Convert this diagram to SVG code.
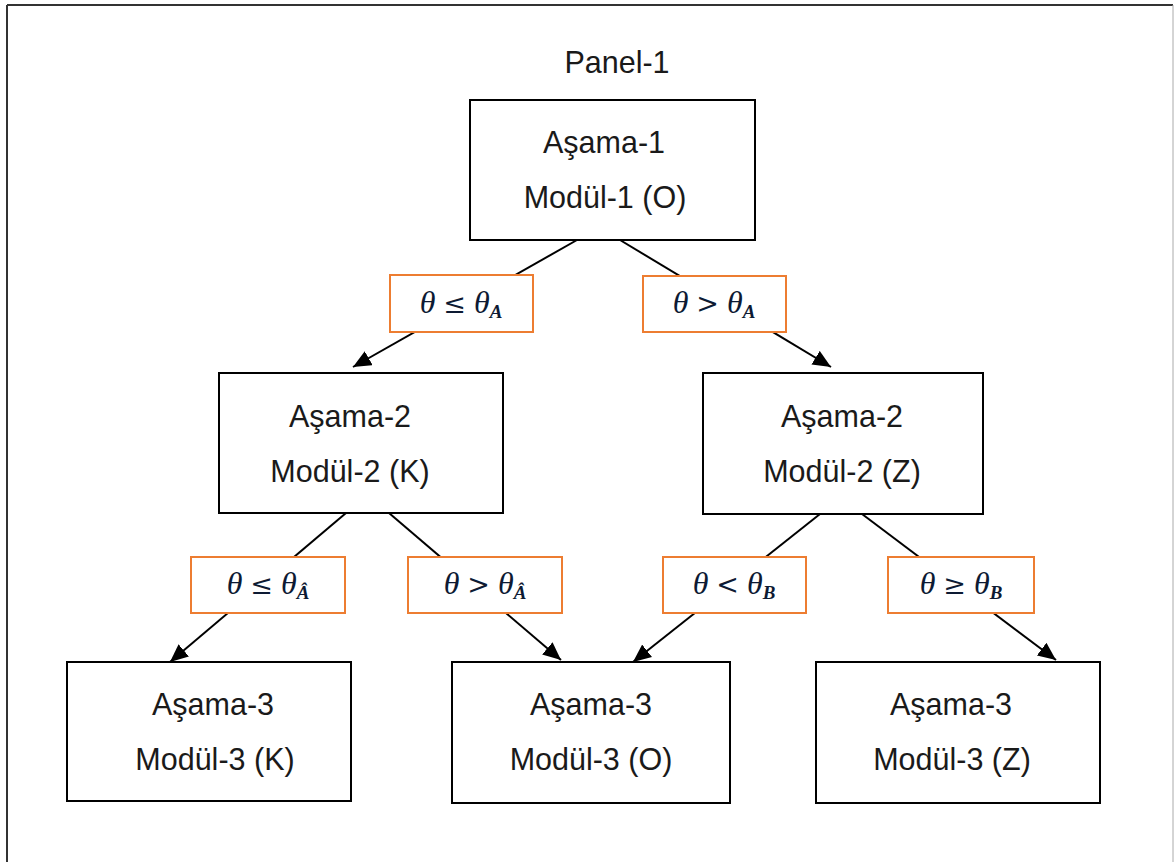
<svg xmlns="http://www.w3.org/2000/svg" width="1174" height="862" viewBox="0 0 1174 862">
<defs>
<style>
.box{fill:#fff;stroke:#000;stroke-width:2}
.lbl{fill:#fff;stroke:#ED7D31;stroke-width:2}
.t{font-family:"Liberation Sans",Arial,sans-serif;font-size:30.5px;fill:#1a1a1a;text-anchor:middle}
.m{font-family:"Liberation Serif","DejaVu Serif",serif;font-style:italic;font-size:32px;fill:#0d1a33;text-anchor:middle}
.o{font-family:"DejaVu Serif",serif;font-style:normal;font-size:27px}
.s{font-size:19px;font-weight:bold}
.c{stroke:#000;stroke-width:2;fill:none;marker-end:url(#ah)}
</style>
<marker id="ah" markerUnits="userSpaceOnUse" markerWidth="20" markerHeight="16" refX="18" refY="8" orient="auto">
<path d="M0,0 L18,8 L0,16 z" fill="#000"/>
</marker>
</defs>
<rect width="1174" height="862" fill="#fff"/>
<g id="frame">
<line x1="7" y1="5" x2="1173" y2="5" stroke="#333" stroke-width="2"/>
<line x1="7" y1="5" x2="7" y2="862" stroke="#333" stroke-width="2"/>
<line x1="1173" y1="5" x2="1173" y2="862" stroke="#aaa" stroke-width="1"/>
</g>
<text class="t" x="617" y="73">Panel-1</text>
<g id="connectors">
<line class="c" x1="577" y1="240" x2="353" y2="367"/>
<line class="c" x1="620" y1="240" x2="831" y2="367"/>
<line class="c" x1="346" y1="513" x2="170" y2="662"/>
<line class="c" x1="389" y1="513" x2="561" y2="660"/>
<line class="c" x1="820" y1="514" x2="633" y2="662"/>
<line class="c" x1="862" y1="514" x2="1056" y2="660"/>
</g>
<g id="n1"><rect class="box" x="470" y="100" width="285" height="140"/>
<text class="t" x="604" y="153">Aşama-1</text><text class="t" x="605" y="208">Modül-1 (O)</text></g>
<g id="n2l"><rect class="box" x="219" y="373" width="284" height="140"/>
<text class="t" x="350" y="427">Aşama-2</text><text class="t" x="350" y="482">Modül-2 (K)</text></g>
<g id="n2r"><rect class="box" x="703" y="373" width="280" height="141"/>
<text class="t" x="842" y="427">Aşama-2</text><text class="t" x="842" y="482">Modül-2 (Z)</text></g>
<g id="n3l"><rect class="box" x="67" y="662" width="284" height="139"/>
<text class="t" x="213" y="715">Aşama-3</text><text class="t" x="215" y="770">Modül-3 (K)</text></g>
<g id="n3m"><rect class="box" x="452" y="662" width="278" height="141"/>
<text class="t" x="591" y="715">Aşama-3</text><text class="t" x="591" y="770">Modül-3 (O)</text></g>
<g id="n3r"><rect class="box" x="816" y="662" width="284" height="141"/>
<text class="t" x="951" y="715">Aşama-3</text><text class="t" x="952" y="770">Modül-3 (Z)</text></g>
<g id="l1"><rect class="lbl" x="390" y="275" width="143" height="57"/>
<text class="m" x="461" y="313">θ <tspan class="o">≤</tspan> θ<tspan class="s" dy="5">A</tspan></text></g>
<g id="l2"><rect class="lbl" x="643" y="276" width="143" height="56"/>
<text class="m" x="714" y="313">θ <tspan class="o">&gt;</tspan> θ<tspan class="s" dy="5">A</tspan></text></g>
<g id="l3"><rect class="lbl" x="191" y="557" width="154" height="56"/>
<text class="m" x="268" y="594">θ <tspan class="o">≤</tspan> θ<tspan class="s" dy="5">Â</tspan></text></g>
<g id="l4"><rect class="lbl" x="408" y="557" width="154" height="56"/>
<text class="m" x="485" y="594">θ <tspan class="o">&gt;</tspan> θ<tspan class="s" dy="5">Â</tspan></text></g>
<g id="l5"><rect class="lbl" x="663" y="557" width="143" height="56"/>
<text class="m" x="734" y="594">θ <tspan class="o">&lt;</tspan> θ<tspan class="s" dy="5">B</tspan></text></g>
<g id="l6"><rect class="lbl" x="888" y="557" width="146" height="56"/>
<text class="m" x="961" y="594">θ <tspan class="o">≥</tspan> θ<tspan class="s" dy="5">B</tspan></text></g>
</svg>
